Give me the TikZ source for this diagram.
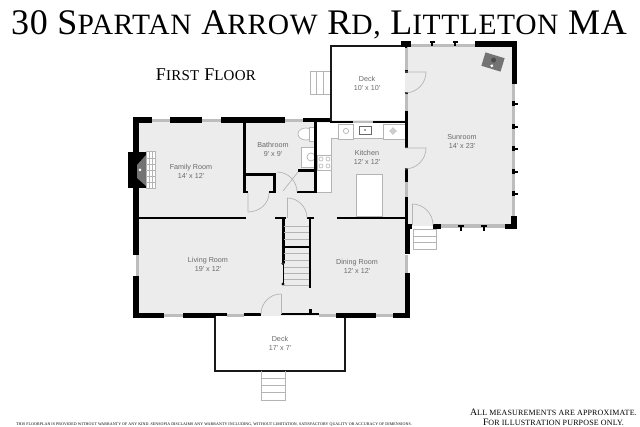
\documentclass[tikz,border=0pt]{standalone}
\usepackage{fontspec}
\usepackage{tikz}
\newfontfamily\labelfont{Liberation Sans}
\newfontfamily\capsfont[LetterSpace=2]{Liberation Serif}
\newcommand{\capsword}[4]{{\fontsize{#1}{#1}\selectfont #3}{\fontsize{#2}{#2}\selectfont #4}}
\definecolor{floorgray}{HTML}{ECECEC}
\definecolor{wingray}{HTML}{BDBDBD}
\definecolor{linegray}{HTML}{B4B4B4}
\definecolor{textgray}{HTML}{6A6A6A}
\tikzset{
  wall/.style={fill=black},
  window/.style={fill=wingray},
  floorarea/.style={fill=floorgray},
  deckline/.style={draw=black!90,line width=1.6pt},
  doorline/.style={draw=linegray,line width=0.7pt},
  stepline/.style={draw=linegray,line width=0.7pt},
  fixture/.style={draw=linegray,line width=0.7pt,fill=white},
  roomlabel/.style={font=\labelfont\fontsize{7.2}{9}\selectfont,text=textgray,align=center,inner sep=0pt},
  heading/.style={text=black,inner sep=0pt,align=center},
}
\begin{document}
\begin{tikzpicture}[x=1pt,y=-1pt]
\useasboundingbox (0,0) rectangle (640,427);
%%%%% Floors %%%%%
\fill[floorarea] (136,120)--(405,120)--(405,316)--(136,316)--cycle;
\fill[floorarea] (405,45)--(514,45)--(514,226)--(405,226)--cycle;
%%%%% Kitchen units %%%%%
\fill[white] (317,123)--(405,123)--(405,138)--(331,138)--(331,192)--(317,192)--cycle;
\draw[doorline] (405,138)--(331,138)--(331,192)--(317,192);
\draw[fixture] (356,174) rectangle (382,216.5);
\draw[fixture] (338,124) rectangle (353,139);
\draw[fixture] (383,124) rectangle (405,139);
\draw[draw=black!60,line width=1pt,fill=white] (359,127) rectangle (371,135);
\fill[black!70] (365,130) circle (0.9);
\draw[linegray,line width=0.7pt] (346,131) circle (2.6);
\draw[linegray,line width=0.7pt] (393,131) circle (2.4) (389,131)--(397,131) (393,127)--(393,135);
\draw[fixture] (317,155) rectangle (331,170);
\foreach \cx in {321,328}{
  \foreach \cy in {159,166}{
    \draw[linegray,line width=0.6pt] (\cx,\cy) circle (2);
  }
}
%%%%% Bathroom fixtures %%%%%
\draw[fixture] (301,147) rectangle (315,167);
\draw[linegray,line width=0.7pt] (311,157) circle (4);
\draw[fixture] (306,134) ellipse (8 and 6);
\draw[fixture] (309,127) rectangle (314,141);
%%%%% Decks %%%%%
\draw[deckline] (405,46)--(330.7,46)--(330.7,121);
\draw[deckline] (215,316)--(215,371)--(345,371)--(345,316);
%%%%% Windows %%%%%
\foreach \xa/\ya/\xb/\yb in {152/119/170/122, 202/119/221/122, 285/119/303/122, 353/121/373/123,
  136/255/139/276, 164/314/183/317, 227/314/244/317, 319/314/336/317, 376/314/394/317, 405/255/408/273,
  405/47/408/70, 405/92/408/111, 405/182/408/198,
  411/44/475/47, 512/84/515/216, 441/224/505/228}{
  \fill[window] (\xa,\ya) rectangle (\xb,\yb);
}
%%%%% Walls %%%%%
\foreach \xa/\ya/\xb/\yb in {133/117/152/123, 170/117/202/123, 221/117/285/123, 303/118/330/122, 330/121/353/123.5, 373/121/408/123.5,
  133/117/139/152, 133/188/139/255, 133/276/139/318,
  133/313/164/318, 183/313/215/318, 215/313/227/316, 244/313/261/316, 281/313/319/315.5, 336/313/376/318, 393/313/410/318,
  405/273/410/318, 405/224/410/254, 405/197/407.5/224, 405/111/408/148, 405/168/408/182, 405/198/408/224,
  401/41/411/47, 405/47/407/48, 405/70/408/73, 405/92/408/94,
  475/41/517/47, 512/41/517/84, 505/224/517/229, 511/216/517/229, 433/224/441/229, 405/224/412/229,
  243/122/246/193, 245/173/276/176, 273/174/276/193, 243/191/248/193, 269/191/276/193,
  314/122/317/193, 297/191/317/193.5, 298/169.5/315/172,
  139/217/246/219.5, 337/217/405/219.5,
  282/218/284.5/263, 308.5/218/311/288, 275/217/286/219.5, 307/217/314/219.5, 283/246/309/248.5, 309/309/311.5/314}{
  \fill[wall] (\xa,\ya) rectangle (\xb,\yb);
}
\draw[line width=0.7pt] (283,263)--(283,284);
\draw[line width=0.6pt,fill=white] (283,263.5) circle (1.1) (283,284) circle (1.1);
\foreach \px in {432,455}{
  \fill[wall] (\px-2.5,41.5) rectangle (\px+2.5,43.5);
  \fill[wall] (\px-1,41.5) rectangle (\px+1,46);
}
\foreach \px in {461,484}{
  \fill[wall] (\px-3,225) rectangle (\px+3,227);
  \fill[wall] (\px-1,225) rectangle (\px+1,231);
}
\foreach \py in {104,127,149,172,194}{
  \fill[wall] (512,\py-1) rectangle (518,\py+1);
  \fill[wall] (512,\py-2.5) rectangle (514.5,\py+2.5);
}
%%%%% Fireplaces %%%%%
\fill[wall] (128,152) rectangle (146,188);
\fill[black!55] (146,155)--(146,186)--(137,178)--(137,165)--cycle;
\fill[white] (140,170) circle (1.5);
\draw[fill=white,draw=linegray,line width=0.6pt] (146.5,151) rectangle (155,188);
\foreach \ty in {158,164,170,176,182}{
  \draw[stepline] (146.5,\ty)--(155,\ty);
}
\foreach \tx in {149.5,152.5}{
  \draw[stepline] (\tx,151)--(\tx,188);
}
\begin{scope}[shift={(493,62)},rotate=-17]
\fill[black!55] (-10,-7) rectangle (10,7);
\fill[black!70] (0,-2) circle (2.5);
\fill[white] (0,4) circle (1.6);
\end{scope}
%%%%% Doors %%%%%
\draw[doorline] (405,72)--(426,72) arc (0:90:21);
\draw[doorline] (405,148)--(426,148) arc (0:90:21);
\draw[doorline] (412,204)--(412,225);
\draw[doorline] (412,204) arc (-90:0:21);
\draw[doorline] (248,193)--(248,212) arc (90:0:21 and 19);
\draw[doorline] (287,198)--(287,218);
\draw[doorline] (287,198) arc (-90:0:20);
\draw[doorline] (281,294)--(281,314);
\draw[doorline] (281,294) arc (-90:-180:20);
\draw[doorline] (277,172) arc (-90:0:20);
\draw[doorline] (298,172)--(283,191);
%%%%% Stairs %%%%%
\draw[stepline] (310,71)--(330,71) (310,94)--(330,94) (310,71)--(310,94);
\foreach \sx in {316,323}{
  \draw[stepline] (\sx,71)--(\sx,94);
}
\draw[stepline] (413,229)--(413,249)--(436,249)--(436,229);
\foreach \sy in {229,236,242}{
  \draw[stepline] (413,\sy)--(436,\sy);
}
\draw[stepline] (261,371)--(261,400)--(285,400)--(285,371);
\foreach \sy in {378,385,392}{
  \draw[stepline] (261,\sy)--(285,\sy);
}
\foreach \sy in {226,232,239,253,260,267,273,279,285}{
  \draw[stepline] (284,\sy)--(308.5,\sy);
}
%%%%% Labels %%%%%
\node[roomlabel] (family) at (191,171.5) {Family Room\\14' x 12'};
\node[roomlabel] (bath) at (273,149) {Bathroom\\9' x 9'};
\node[roomlabel] (living) at (208,264.5) {Living Room\\19' x 12'};
\node[roomlabel] (dining) at (357,266) {Dining Room\\12' x 12'};
\node[roomlabel] (kitchen) at (367,157.5) {Kitchen\\12' x 12'};
\node[roomlabel] (sunroom) at (462,141.5) {Sunroom\\14' x 23'};
\node[roomlabel] (deckup) at (367,83.5) {Deck\\10' x 10'};
\node[roomlabel] (decklow) at (280,343.5) {Deck\\17' x 7'};
\node[heading,font=\capsfont\fontsize{36}{40}\selectfont] (title) at (319,25) {\capsword{36}{29.5}{30 S}{PARTAN} \capsword{36}{29.5}{A}{RROW} \capsword{36}{29.5}{R}{D,} \capsword{36}{29.5}{L}{ITTLETON} \capsword{36}{29.5}{MA}{}};
\node[heading,font=\capsfont\fontsize{18}{20}\selectfont] (floorname) at (206,75) {\capsword{18}{15}{F}{IRST} \capsword{18}{15}{F}{LOOR}};
\node[heading,font=\capsfont\fontsize{9.8}{11}\selectfont] (note) at (553.5,412) {\capsword{9.8}{8}{A}{LL MEASUREMENTS ARE APPROXIMATE.}};
\node[heading,font=\capsfont\fontsize{9.8}{11}\selectfont] (noteb) at (553.5,422) {\capsword{9.8}{8}{F}{OR ILLUSTRATION PURPOSE ONLY.}};
\node[heading,font=\capsfont\fontsize{3.98}{5}\selectfont] (disclaimer) at (214,424.5) {THIS FLOORPLAN IS PROVIDED WITHOUT WARRANTY OF ANY KIND. SENSOPIA DISCLAIMS ANY WARRANTY INCLUDING, WITHOUT LIMITATION, SATISFACTORY QUALITY OR ACCURACY OF DIMENSIONS.};
\end{tikzpicture}
\end{document}
